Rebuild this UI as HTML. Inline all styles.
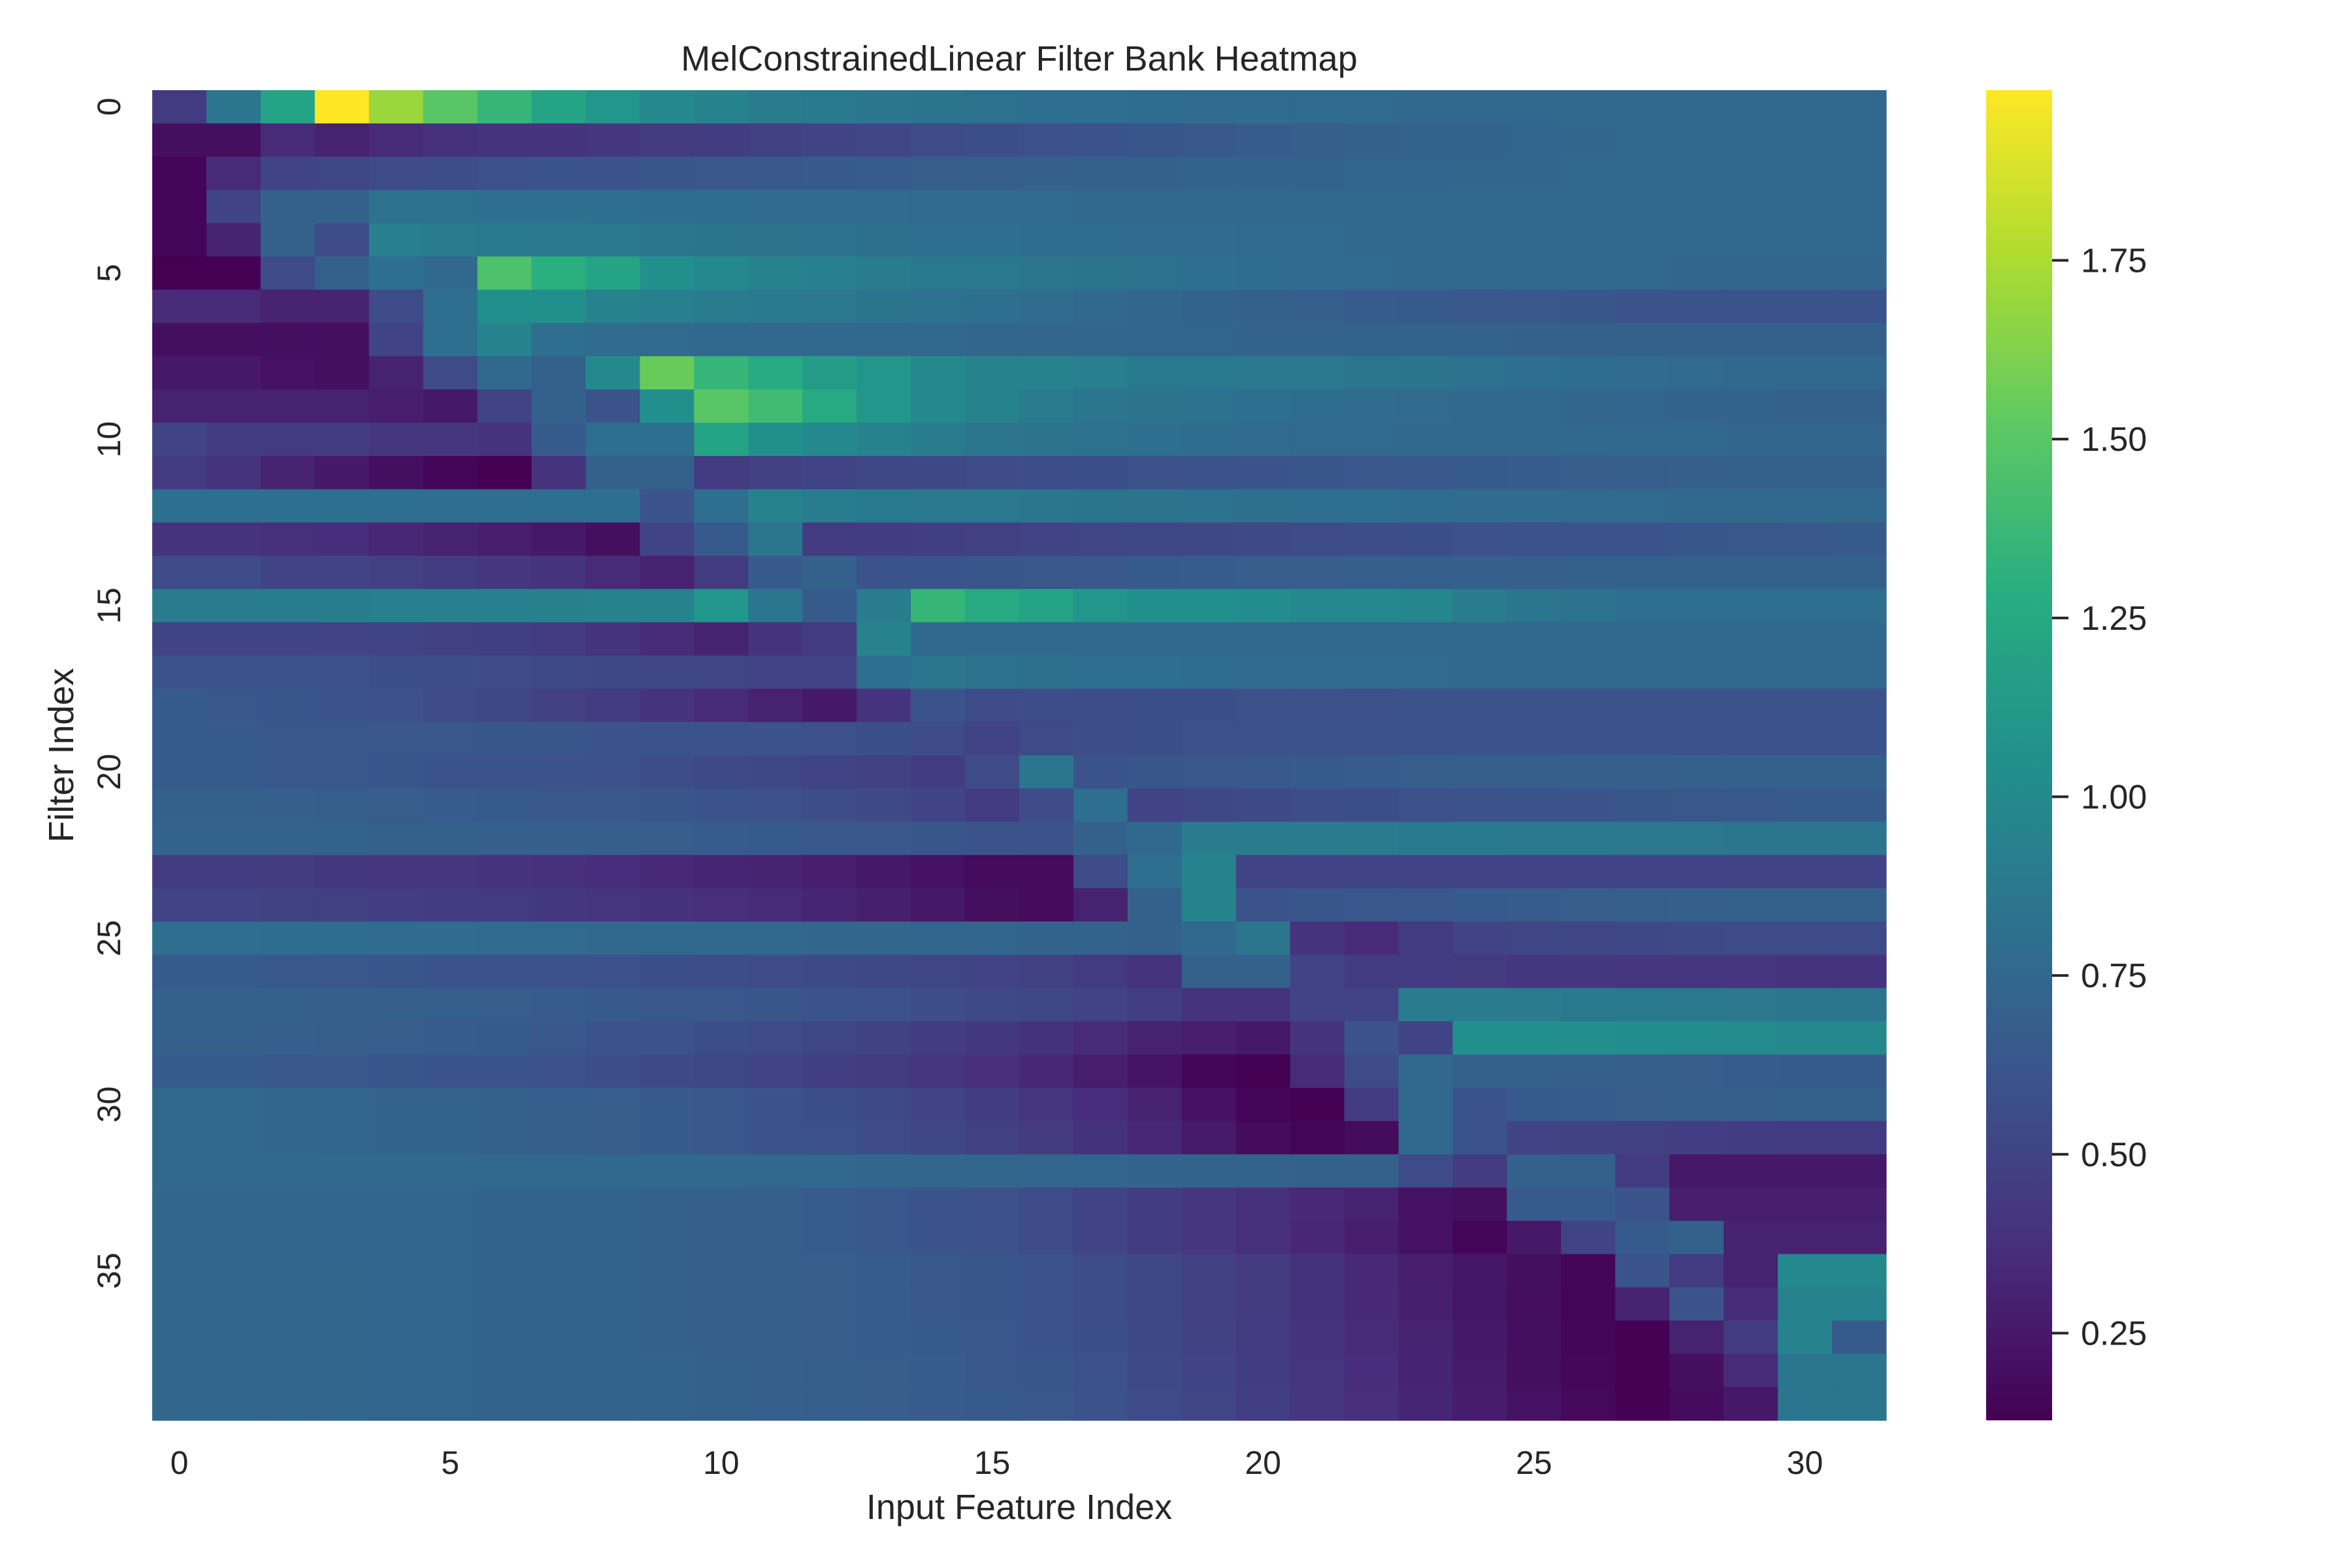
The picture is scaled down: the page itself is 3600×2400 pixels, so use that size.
<!DOCTYPE html>
<html><head><meta charset="utf-8"><style>
html,body{margin:0;padding:0;background:#fff;}
svg{display:block;font-family:"Liberation Sans",Arial,sans-serif;}
</style></head><body>
<svg id="chart" width="3600" height="2400" viewBox="0 0 3600 2400" xmlns="http://www.w3.org/2000/svg">
<text x="1560" y="108" font-size="54" text-anchor="middle" fill="#262626">MelConstrainedLinear Filter Bank Heatmap</text>
<g id="cells"></g>
<g id="xticks"></g>
<g id="yticks"></g>
<text x="1560" y="2325" font-size="54" text-anchor="middle" fill="#262626">Input Feature Index</text>
<text x="0" y="0" font-size="54" text-anchor="middle" fill="#262626" transform="translate(112,1156) rotate(-90)">Filter Index</text>
<defs><linearGradient id="cbgrad" x1="0" y1="1" x2="0" y2="0"></linearGradient></defs>
<rect x="3040" y="138" width="101" height="2036" fill="url(#cbgrad)"/>
<g id="cbticks"></g>
</svg>
<script>
const nCols = 32;
const xTickLabels = [0,5,10,15,20,25,30];
const yTickLabels = [0,5,10,15,20,25,30,35];
const cbTickLabels = [0.25,0.5,0.75,1.0,1.25,1.5,1.75];
const vMin = 0.128, vMax = 1.988;
const r0=[0.45,0.85,1.2,2.0,1.7,1.5,1.35,1.2,1.1,1.0,0.95,0.9,0.88,0.85,0.83,0.82,0.8,0.8,0.79,0.78,0.78,0.77,0.77,0.76,0.76,0.76,0.75,0.75,0.75,0.75,0.75,0.75];
const r1=[0.2,0.2,0.35,0.3,0.35,0.38,0.4,0.4,0.42,0.44,0.46,0.48,0.5,0.52,0.55,0.57,0.58,0.6,0.62,0.64,0.66,0.68,0.7,0.71,0.72,0.73,0.74,0.75,0.75,0.75,0.75,0.75];
const r2=[0.15,0.35,0.5,0.52,0.55,0.56,0.58,0.6,0.6,0.62,0.63,0.64,0.65,0.66,0.67,0.68,0.69,0.7,0.7,0.71,0.72,0.72,0.73,0.73,0.74,0.74,0.75,0.75,0.75,0.75,0.75,0.75];
const r3=[0.15,0.5,0.7,0.7,0.82,0.82,0.8,0.8,0.8,0.79,0.79,0.78,0.78,0.78,0.77,0.77,0.77,0.76,0.76,0.76,0.76,0.75,0.75,0.75,0.75,0.75,0.75,0.75,0.75,0.75,0.75,0.75];
const r4=[0.15,0.3,0.7,0.55,0.92,0.9,0.88,0.87,0.86,0.85,0.84,0.83,0.82,0.81,0.8,0.8,0.79,0.79,0.78,0.78,0.77,0.77,0.76,0.76,0.76,0.75,0.75,0.75,0.75,0.75,0.75,0.75];
const r5=[0.13,0.13,0.55,0.7,0.8,0.75,1.45,1.3,1.2,1.05,1.0,0.95,0.92,0.9,0.88,0.87,0.85,0.84,0.82,0.8,0.79,0.78,0.77,0.76,0.76,0.75,0.75,0.75,0.74,0.74,0.74,0.74];
const r6=[0.35,0.35,0.3,0.3,0.55,0.8,1.05,1.05,0.95,0.92,0.9,0.88,0.86,0.84,0.82,0.8,0.78,0.76,0.74,0.72,0.7,0.68,0.66,0.65,0.64,0.63,0.62,0.61,0.6,0.6,0.6,0.6];
const r7=[0.2,0.2,0.2,0.2,0.5,0.8,0.95,0.8,0.78,0.77,0.76,0.76,0.75,0.75,0.75,0.74,0.74,0.74,0.73,0.73,0.72,0.72,0.72,0.71,0.71,0.7,0.7,0.7,0.7,0.7,0.7,0.7];
const r8=[0.25,0.25,0.22,0.2,0.3,0.55,0.75,0.7,1.0,1.55,1.35,1.25,1.15,1.1,1.0,0.95,0.95,0.92,0.88,0.88,0.87,0.86,0.85,0.84,0.82,0.8,0.79,0.78,0.77,0.76,0.75,0.75];
const r9=[0.3,0.3,0.3,0.3,0.28,0.25,0.5,0.7,0.6,1.05,1.5,1.4,1.25,1.1,1.0,0.95,0.9,0.85,0.83,0.82,0.8,0.79,0.78,0.77,0.76,0.75,0.74,0.73,0.72,0.71,0.7,0.7];
const r10=[0.5,0.45,0.45,0.45,0.42,0.42,0.4,0.65,0.8,0.8,1.2,1.05,1.0,0.95,0.9,0.85,0.83,0.82,0.8,0.79,0.78,0.77,0.77,0.76,0.76,0.75,0.75,0.75,0.75,0.74,0.74,0.74];
const r11=[0.45,0.4,0.3,0.25,0.2,0.15,0.12,0.4,0.7,0.7,0.45,0.48,0.5,0.52,0.53,0.55,0.56,0.57,0.58,0.6,0.61,0.62,0.63,0.64,0.65,0.66,0.67,0.68,0.69,0.7,0.7,0.7];
const r12=[0.8,0.8,0.8,0.8,0.8,0.8,0.8,0.8,0.8,0.6,0.8,0.95,0.9,0.88,0.87,0.86,0.85,0.84,0.83,0.82,0.81,0.8,0.8,0.79,0.78,0.78,0.77,0.77,0.76,0.76,0.75,0.75];
const r13=[0.4,0.4,0.38,0.36,0.33,0.3,0.28,0.25,0.2,0.5,0.65,0.85,0.45,0.46,0.47,0.48,0.5,0.51,0.52,0.53,0.54,0.55,0.56,0.57,0.58,0.59,0.6,0.61,0.62,0.63,0.64,0.65];
const r14=[0.55,0.55,0.5,0.5,0.48,0.45,0.42,0.4,0.35,0.3,0.45,0.65,0.7,0.6,0.61,0.62,0.63,0.64,0.65,0.66,0.67,0.67,0.68,0.68,0.69,0.69,0.7,0.7,0.7,0.7,0.7,0.7];
const r15=[0.9,0.9,0.9,0.91,0.92,0.92,0.93,0.94,0.95,0.95,1.1,0.85,0.65,0.9,1.35,1.25,1.2,1.1,1.05,1.05,1.02,1.0,1.0,0.98,0.9,0.85,0.82,0.8,0.8,0.8,0.8,0.8];
const r16=[0.5,0.5,0.5,0.5,0.5,0.48,0.47,0.45,0.4,0.35,0.3,0.4,0.45,0.95,0.75,0.75,0.75,0.75,0.75,0.75,0.75,0.75,0.75,0.75,0.75,0.75,0.75,0.75,0.75,0.75,0.75,0.75];
const r17=[0.6,0.6,0.6,0.58,0.57,0.56,0.55,0.54,0.53,0.52,0.51,0.5,0.5,0.8,0.85,0.82,0.81,0.8,0.8,0.79,0.78,0.78,0.77,0.77,0.76,0.76,0.75,0.75,0.75,0.75,0.75,0.75];
const r18=[0.65,0.64,0.62,0.6,0.58,0.55,0.52,0.48,0.45,0.4,0.35,0.3,0.25,0.4,0.6,0.55,0.56,0.56,0.57,0.57,0.58,0.58,0.58,0.59,0.59,0.6,0.6,0.6,0.6,0.6,0.6,0.6];
const r19=[0.65,0.65,0.64,0.64,0.63,0.63,0.62,0.62,0.61,0.6,0.6,0.59,0.58,0.57,0.55,0.5,0.55,0.56,0.57,0.58,0.58,0.59,0.59,0.6,0.6,0.6,0.6,0.6,0.6,0.6,0.6,0.6];
const r20=[0.65,0.65,0.64,0.63,0.62,0.61,0.6,0.59,0.58,0.56,0.54,0.52,0.5,0.48,0.46,0.55,0.85,0.6,0.62,0.63,0.64,0.65,0.66,0.67,0.68,0.68,0.69,0.69,0.7,0.7,0.7,0.7];
const r21=[0.7,0.7,0.69,0.68,0.67,0.66,0.65,0.64,0.63,0.62,0.6,0.58,0.56,0.54,0.5,0.45,0.55,0.8,0.5,0.52,0.54,0.56,0.57,0.58,0.59,0.6,0.61,0.62,0.63,0.64,0.65,0.65];
const r22=[0.72,0.72,0.71,0.71,0.7,0.7,0.69,0.69,0.68,0.67,0.66,0.65,0.64,0.63,0.62,0.61,0.6,0.7,0.75,0.9,0.9,0.89,0.89,0.88,0.88,0.87,0.87,0.86,0.86,0.85,0.85,0.85];
const r23=[0.45,0.45,0.44,0.43,0.42,0.41,0.4,0.38,0.36,0.34,0.32,0.3,0.28,0.25,0.22,0.18,0.18,0.55,0.8,0.95,0.5,0.5,0.5,0.5,0.5,0.5,0.5,0.5,0.5,0.5,0.5,0.5];
const r24=[0.5,0.5,0.49,0.48,0.47,0.46,0.45,0.43,0.41,0.39,0.37,0.35,0.32,0.29,0.25,0.2,0.18,0.3,0.7,0.95,0.6,0.62,0.63,0.64,0.65,0.66,0.67,0.68,0.69,0.7,0.7,0.7];
const r25=[0.8,0.8,0.79,0.79,0.78,0.78,0.77,0.77,0.76,0.76,0.75,0.75,0.74,0.74,0.73,0.73,0.72,0.72,0.7,0.75,0.85,0.4,0.35,0.45,0.5,0.51,0.52,0.53,0.54,0.55,0.55,0.55];
const r26=[0.65,0.65,0.64,0.63,0.62,0.61,0.6,0.59,0.58,0.57,0.56,0.55,0.54,0.53,0.52,0.5,0.48,0.45,0.4,0.7,0.7,0.5,0.45,0.45,0.44,0.43,0.43,0.42,0.42,0.41,0.4,0.4];
const r27=[0.7,0.7,0.7,0.69,0.69,0.68,0.67,0.66,0.65,0.64,0.63,0.62,0.6,0.58,0.56,0.54,0.52,0.5,0.47,0.4,0.4,0.5,0.5,0.9,0.9,0.89,0.88,0.88,0.87,0.86,0.85,0.85];
const r28=[0.7,0.7,0.69,0.68,0.67,0.66,0.65,0.63,0.61,0.59,0.57,0.55,0.52,0.49,0.46,0.43,0.39,0.35,0.3,0.28,0.25,0.4,0.6,0.5,1.05,1.05,1.04,1.03,1.02,1.01,1.0,1.0];
const r29=[0.65,0.65,0.64,0.63,0.62,0.61,0.6,0.58,0.56,0.54,0.52,0.5,0.47,0.44,0.41,0.37,0.33,0.28,0.23,0.15,0.12,0.35,0.55,0.75,0.7,0.7,0.69,0.68,0.67,0.66,0.65,0.65];
const r30=[0.75,0.75,0.74,0.73,0.72,0.71,0.7,0.69,0.67,0.65,0.63,0.6,0.57,0.54,0.5,0.46,0.41,0.36,0.3,0.22,0.15,0.12,0.45,0.75,0.6,0.65,0.66,0.67,0.68,0.69,0.7,0.7];
const r31=[0.75,0.75,0.74,0.73,0.72,0.71,0.7,0.69,0.67,0.65,0.63,0.61,0.58,0.55,0.52,0.48,0.44,0.39,0.33,0.26,0.18,0.15,0.18,0.75,0.6,0.5,0.49,0.48,0.47,0.46,0.45,0.45];
const r32=[0.75,0.75,0.75,0.75,0.75,0.75,0.75,0.75,0.75,0.75,0.75,0.75,0.75,0.74,0.74,0.74,0.73,0.73,0.72,0.72,0.71,0.7,0.7,0.55,0.45,0.7,0.7,0.45,0.25,0.25,0.25,0.25];
const r33=[0.74,0.74,0.74,0.73,0.73,0.73,0.72,0.72,0.71,0.7,0.69,0.68,0.66,0.64,0.61,0.58,0.55,0.5,0.46,0.42,0.38,0.34,0.3,0.22,0.2,0.65,0.65,0.6,0.28,0.28,0.28,0.28];
const r34=[0.74,0.74,0.74,0.73,0.73,0.73,0.72,0.72,0.71,0.7,0.69,0.68,0.66,0.64,0.61,0.58,0.55,0.5,0.46,0.42,0.38,0.33,0.28,0.22,0.15,0.25,0.5,0.65,0.7,0.3,0.3,0.3];
const r35=[0.74,0.74,0.74,0.74,0.73,0.73,0.72,0.72,0.71,0.7,0.69,0.68,0.67,0.66,0.64,0.62,0.6,0.56,0.52,0.48,0.44,0.39,0.34,0.28,0.24,0.2,0.15,0.6,0.45,0.3,1.0,1.0];
const r36=[0.74,0.74,0.74,0.74,0.73,0.73,0.72,0.72,0.71,0.7,0.69,0.68,0.67,0.66,0.64,0.62,0.6,0.56,0.52,0.48,0.44,0.39,0.34,0.29,0.24,0.19,0.15,0.3,0.6,0.35,0.95,0.95];
const r37=[0.74,0.74,0.74,0.74,0.73,0.73,0.72,0.72,0.71,0.7,0.69,0.68,0.67,0.66,0.65,0.63,0.61,0.57,0.53,0.49,0.45,0.4,0.35,0.3,0.25,0.2,0.15,0.12,0.3,0.45,0.95,0.65];
const r38=[0.74,0.74,0.74,0.74,0.73,0.73,0.72,0.72,0.72,0.71,0.7,0.69,0.68,0.67,0.66,0.64,0.62,0.58,0.54,0.5,0.46,0.41,0.36,0.31,0.26,0.2,0.16,0.13,0.2,0.35,0.85,0.85];
const r39=[0.74,0.74,0.74,0.74,0.73,0.73,0.72,0.72,0.72,0.71,0.7,0.69,0.68,0.67,0.66,0.65,0.63,0.59,0.55,0.51,0.47,0.42,0.37,0.32,0.27,0.21,0.17,0.13,0.18,0.25,0.85,0.85];
const rows=[r0,r1,r2,r3,r4,r5,r6,r7,r8,r9,r10,r11,r12,r13,r14,r15,r16,r17,r18,r19,r20,r21,r22,r23,r24,r25,r26,r27,r28,r29,r30,r31,r32,r33,r34,r35,r36,r37,r38,r39];

const NS="http://www.w3.org/2000/svg";
const PX0=233, PX1=2887, PY0=138, PY1=2174;
const CBY0=138, CBY1=2174;
const cw=(PX1-PX0)/nCols, ch=(PY1-PY0)/rows.length;
function xScale(c){return PX0+c*cw;}
function yScale(r){return PY0+r*ch;}
function cbScale(v){return CBY1-(v-vMin)/(vMax-vMin)*(CBY1-CBY0);}
const VIR=["#440154","#472d7b","#3b528b","#2c728e","#21918c","#28ae80","#5ec962","#addc30","#fde725"];
function hex(h){return [1,3,5].map(i=>parseInt(h.substr(i,2),16));}
function cmap(v){
  let t=(v-vMin)/(vMax-vMin); t=Math.max(0,Math.min(1,t));
  const p=t*(VIR.length-1), i=Math.min(Math.floor(p),VIR.length-2), f=p-i;
  const a=hex(VIR[i]), b=hex(VIR[i+1]);
  return "rgb("+a.map((x,k)=>Math.round(x+(b[k]-x)*f)).join(",")+")";
}
function mk(tag,attrs){const e=document.createElementNS(NS,tag);for(const k in attrs)e.setAttribute(k,attrs[k]);return e;}

const cells=document.getElementById("cells");
rows.forEach((row,r)=>{row.forEach((v,c)=>{
  const e=mk("rect",{x:xScale(c).toFixed(2),y:yScale(r).toFixed(2),width:(cw+0.6).toFixed(2),height:(ch+0.6).toFixed(2),fill:cmap(v)});
  
  
  cells.appendChild(e);
});});

const xt=document.getElementById("xticks");
xTickLabels.forEach(l=>{
  const e=mk("text",{x:(xScale(l)+cw/2).toFixed(1),y:2256,"font-size":50,"text-anchor":"middle",fill:"#262626"});
  e.textContent=l;
  
  
  xt.appendChild(e);
});
const yt=document.getElementById("yticks");
yTickLabels.forEach(l=>{
  const cy=yScale(l)+ch/2;
  const e=mk("text",{x:0,y:0,"font-size":50,"text-anchor":"middle",fill:"#262626",transform:"translate(184,"+cy.toFixed(1)+") rotate(-90)"});
  e.textContent=l;
  
  
  yt.appendChild(e);
});

const grad=document.getElementById("cbgrad");
for(let i=0;i<=16;i++){
  const s=mk("stop",{offset:(i/16*100)+"%","stop-color":cmap(vMin+(vMax-vMin)*i/16)});
  grad.appendChild(s);
}
const cbt=document.getElementById("cbticks");
cbTickLabels.forEach(v=>{
  const y=cbScale(v);
  const t=mk("line",{x1:3141,x2:3166,y1:y,y2:y,stroke:"#262626","stroke-width":4});
  
  
  cbt.appendChild(t);
  const e=mk("text",{x:3185,y:(y+18).toFixed(1),"font-size":52,fill:"#262626"});
  e.textContent=v.toFixed(2);
  
  
  cbt.appendChild(e);
});
</script>
</body></html>
